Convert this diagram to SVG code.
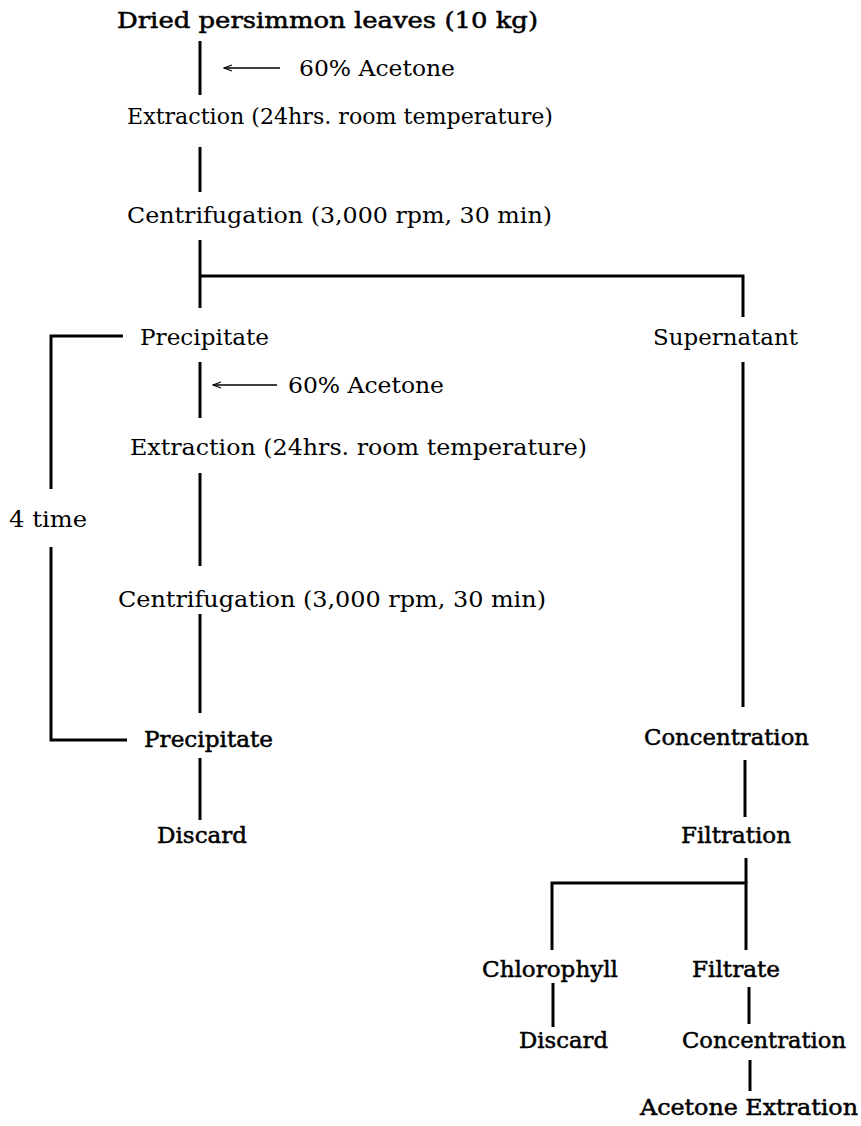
<svg xmlns="http://www.w3.org/2000/svg" width="861" height="1126" viewBox="0 0 861 1126">
<style>
text{font-family:"DejaVu Serif","Liberation Serif",serif;font-size:22px;fill:#000}
.b{stroke:#000;stroke-width:0.5}
.c{fill:none;stroke:#000;stroke-width:3;stroke-linecap:butt}
.a{fill:none;stroke:#000;stroke-width:1.3}
</style>
<defs>
<marker id="ah" markerWidth="10" markerHeight="8" refX="9" refY="4" orient="auto" markerUnits="userSpaceOnUse">
<path d="M1,1 L9,4 L1,7" fill="none" stroke="#000" stroke-width="1.2"/>
</marker>
</defs>
<rect width="861" height="1126" fill="#fff"/>
<g id="connectors">
<line class="c" x1="200" y1="41" x2="200" y2="95"/>
<line class="a" x1="280" y1="68" x2="224" y2="68" marker-end="url(#ah)"/>
<line class="c" x1="200" y1="147" x2="200" y2="192"/>
<line class="c" x1="200" y1="240" x2="200" y2="308"/>
<polyline class="c" points="200,276 743,276 743,317"/>
<polyline class="c" points="123,336 51,336 51,489"/>
<polyline class="c" points="51,547 51,740 127,740"/>
<line class="c" x1="200" y1="362" x2="200" y2="418"/>
<line class="a" x1="277" y1="385" x2="213" y2="385" marker-end="url(#ah)"/>
<line class="c" x1="200" y1="473" x2="200" y2="566"/>
<line class="c" x1="200" y1="614" x2="200" y2="713"/>
<line class="c" x1="200" y1="758" x2="200" y2="820"/>
<line class="c" x1="743" y1="362" x2="743" y2="707"/>
<line class="c" x1="745" y1="760" x2="745" y2="817"/>
<polyline class="c" points="552,950 552,883 746,883 746,950"/>
<line class="c" x1="746" y1="858" x2="746" y2="883"/>
<line class="c" x1="553" y1="983" x2="553" y2="1027"/>
<line class="c" x1="749" y1="987" x2="749" y2="1024"/>
<line class="c" x1="750" y1="1060" x2="750" y2="1091"/>
</g>
<g id="n-dried"><text class="b" x="117" y="28" textLength="421" lengthAdjust="spacingAndGlyphs">Dried persimmon leaves (10 kg)</text></g>
<g id="n-acetone1"><text x="299" y="76" textLength="156" lengthAdjust="spacingAndGlyphs">60% Acetone</text></g>
<g id="n-extraction1"><text x="127" y="124" textLength="426" lengthAdjust="spacingAndGlyphs">Extraction (24hrs. room temperature)</text></g>
<g id="n-centrifugation1"><text x="127" y="223" textLength="425" lengthAdjust="spacingAndGlyphs">Centrifugation (3,000 rpm, 30 min)</text></g>
<g id="n-precipitate1"><text x="140" y="345" textLength="129" lengthAdjust="spacingAndGlyphs">Precipitate</text></g>
<g id="n-supernatant"><text x="653" y="345" textLength="145" lengthAdjust="spacingAndGlyphs">Supernatant</text></g>
<g id="n-acetone2"><text x="288" y="393" textLength="156" lengthAdjust="spacingAndGlyphs">60% Acetone</text></g>
<g id="n-extraction2"><text x="130" y="455" textLength="457" lengthAdjust="spacingAndGlyphs">Extraction (24hrs. room temperature)</text></g>
<g id="n-4time"><text x="9" y="527" textLength="78" lengthAdjust="spacingAndGlyphs">4 time</text></g>
<g id="n-centrifugation2"><text x="118" y="607" textLength="428" lengthAdjust="spacingAndGlyphs">Centrifugation (3,000 rpm, 30 min)</text></g>
<g id="n-precipitate2"><text class="b" x="144" y="747" textLength="129" lengthAdjust="spacingAndGlyphs">Precipitate</text></g>
<g id="n-discard1"><text class="b" x="157" y="843" textLength="90" lengthAdjust="spacingAndGlyphs">Discard</text></g>
<g id="n-concentration1"><text class="b" x="644" y="745" textLength="165" lengthAdjust="spacingAndGlyphs">Concentration</text></g>
<g id="n-filtration"><text class="b" x="681" y="843" textLength="110" lengthAdjust="spacingAndGlyphs">Filtration</text></g>
<g id="n-chlorophyll"><text class="b" x="482" y="977" textLength="136" lengthAdjust="spacingAndGlyphs">Chlorophyll</text></g>
<g id="n-filtrate"><text class="b" x="692" y="977" textLength="88" lengthAdjust="spacingAndGlyphs">Filtrate</text></g>
<g id="n-discard2"><text class="b" x="519" y="1048" textLength="89" lengthAdjust="spacingAndGlyphs">Discard</text></g>
<g id="n-concentration2"><text class="b" x="682" y="1048" textLength="164" lengthAdjust="spacingAndGlyphs">Concentration</text></g>
<g id="n-acetone-extration"><text class="b" x="640" y="1115" textLength="218" lengthAdjust="spacingAndGlyphs">Acetone Extration</text></g>
</svg>
